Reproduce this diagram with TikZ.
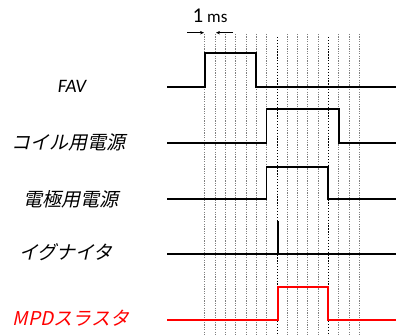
\documentclass[tikz,border=0pt]{standalone}
\usepackage{fontspec}
\setmainfont{Carlito}
\newfontfamily\jpfont[FakeSlant=0.22]{Noto Sans CJK JP}
\usetikzlibrary{arrows.meta}
\begin{document}
\begin{tikzpicture}[x=1pt,y=-1pt,
  grid/.style={gray,line width=0.55pt,dash pattern=on 1.2pt off 1.2pt},
  gridbold/.style={black,line width=1.3pt,dash pattern=on 1.3pt off 1.6pt},
  sig/.style={black,line width=1.8pt},
  redsig/.style={red,line width=1.8pt},
  lab/.style={font=\fontsize{19}{20}\selectfont\itshape,anchor=center},
  jlab/.style={font=\fontsize{19}{20}\selectfont\jpfont,anchor=center},
  dim/.style={-{Stealth[length=4pt,width=3.5pt]},line width=0.6pt}]
\useasboundingbox (0,0) rectangle (396,336);
% grid
\foreach \i in {0,...,15}{
  \pgfmathsetmacro{\xx}{204.7+10.3*\i}
  \ifnum\i=7\else\ifnum\i=12\else
  \draw[grid] (\xx,34) -- (\xx,336);
  \fi\fi
}
\coordinate (b7t) at (277.8,37); \coordinate (b7b) at (277.8,336);
\coordinate (b12t) at (328.3,37); \coordinate (b12b) at (328.3,336);
\draw[gridbold] (b7t) -- (b7b);
\draw[gridbold] (b12t) -- (b12b);
% dimension
\node[inner sep=0pt] (ms) at (210,16) {\fontsize{21}{22}\selectfont 1\hspace{4pt}\fontsize{17}{20}\selectfont ms};
\coordinate (a1s) at (187,32.7); \coordinate (a1e) at (204,32.7);
\coordinate (a2s) at (233,32.7); \coordinate (a2e) at (216,32.7);
\draw[dim] (a1s) -- (a1e);
\draw[dim] (a2s) -- (a2e);
% labels
\node[lab] (fav) at (72,86) {FAV};
\node[jlab] (coil) at (69,142) {コイル用電源};
\node[jlab] (elec) at (71,199) {電極用電源};
\node[jlab] (ign) at (66,252) {イグナイタ};
\node[jlab,red] (mpd) at (71,318) {\itshape MPD\jpfont スラスタ};
% signals
\draw[sig] (167,86.7) -- (204.7,86.7) -- (204.7,52.7) -- (256.2,52.7) -- (256.2,86.7) -- (396,86.7);
\draw[sig] (167,142.7) -- (266.5,142.7) -- (266.5,109) -- (338.6,109) -- (338.6,142.7) -- (396,142.7);
\draw[sig] (167,199.3) -- (266.5,199.3) -- (266.5,166.7) -- (328.3,166.7) -- (328.3,199.3) -- (396,199.3);
\draw[sig] (167,254.3) -- (396,254.3);
\draw[sig] (277.8,254.3) -- (277.8,220.7);
\draw[redsig] (167,320) -- (277.8,320) -- (277.8,287.3) -- (328.3,287.3) -- (328.3,320) -- (396,320);
\end{tikzpicture}
\end{document}
